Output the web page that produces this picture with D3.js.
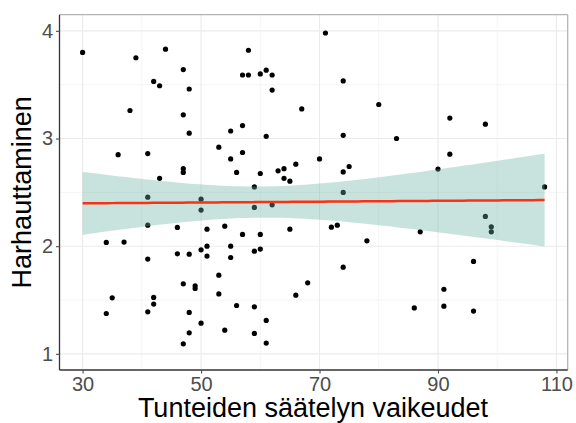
<!DOCTYPE html>
<html><head><meta charset="utf-8">
<script src="https://cdn.jsdelivr.net/npm/d3@7"></script>
<style>html,body{margin:0;padding:0;background:#fff}svg{display:block;font-family:"Liberation Sans",Arial,sans-serif}</style>
</head><body><svg id="c" width="576" height="423"></svg>
<script>
// Data
const xVals = [30,39,44,47,42,43,48,38,47,48,55,53,36,41,55,47,47,43,71,58,57,58,60,61,62,62,74,67,80,57,61,74,57,56,60,63,64,64,65,66,70,74,75,59,92,98,83,92,90,108,41,50,50,41,46,51,54,34,37,51,50,46,48,51,41,53,47,49,49,53,35,42,42,34,41,48,50,48,54,47,59,62,74,57,60,65,72,73,78,55,55,59,60,74,68,66,56,59,61,59,61,98,99,99,87,96,91,86,91,96];
const yVals = [3.80,3.75,3.83,3.64,3.53,3.49,3.46,3.26,3.22,3.05,3.07,2.92,2.85,2.86,2.81,2.72,2.685,2.63,3.98,3.82,3.59,3.59,3.60,3.635,3.59,3.45,3.535,3.275,3.316,3.12,3.02,3.03,2.87,2.685,2.675,2.70,2.72,2.63,2.604,2.762,2.81,2.69,2.74,2.55,3.19,3.133,3.00,2.855,2.716,2.55,2.455,2.437,2.335,2.195,2.174,2.158,2.186,2.035,2.038,2.0,1.966,1.929,1.926,1.908,1.88,1.731,1.65,1.632,1.607,1.557,1.52,1.524,1.462,1.375,1.39,1.385,1.285,1.195,1.22,1.093,2.36,2.384,2.499,2.109,2.109,2.158,2.177,2.195,2.05,2.0,1.895,1.954,1.973,1.805,1.66,1.545,1.449,1.437,1.31,1.19,1.10,2.276,2.18,2.133,2.133,1.858,1.60,1.427,1.443,1.397];
const xTicks = [30,50,70,90,110];
const xMinor = [40,60,80,100];
const yTicks = [1,2,3,4];
const yMinor = [1.5,2.5,3.5];
const xTitle = "Tunteiden säätelyn vaikeudet";
const yTitle = "Harhauttaminen";

const svg = d3.select("#c");
const L = 59.5, R = 567.7, T = 14.7, B = 370;
const x = d3.scaleLinear().domain([26.1, 111.9]).range([L, R]);
const y = d3.scaleLinear().domain([0.85, 4.15]).range([B, T]);

// grid
const g = svg.append("g");
g.selectAll(".vx").data(xMinor).join("line").attr("x1",d=>x(d)).attr("x2",d=>x(d)).attr("y1",T).attr("y2",B).attr("stroke","#f3f3f3").attr("stroke-width",0.8);
g.selectAll(".hy").data(yMinor).join("line").attr("y1",d=>y(d)).attr("y2",d=>y(d)).attr("x1",L).attr("x2",R).attr("stroke","#f3f3f3").attr("stroke-width",0.8);
g.selectAll(".vX").data(xTicks).join("line").attr("x1",d=>x(d)).attr("x2",d=>x(d)).attr("y1",T).attr("y2",B).attr("stroke","#ebebeb").attr("stroke-width",1.1);
g.selectAll(".hY").data(yTicks).join("line").attr("y1",d=>y(d)).attr("y2",d=>y(d)).attr("x1",L).attr("x2",R).attr("stroke","#ebebeb").attr("stroke-width",1.1);

// points
const pts = xVals.map((v,i)=>[v,yVals[i]]).filter(d=>d[1]!==undefined);
svg.append("g").selectAll("circle").data(pts).join("circle")
  .attr("cx",d=>x(d[0])).attr("cy",d=>y(d[1])).attr("r",2.6).attr("fill","#000");

// linear fit with 95% CI
const n = pts.length;
const px = pts.map(d=>d[0]), py = pts.map(d=>d[1]);
const mx = d3.mean(px), my = d3.mean(py);
let sxx=0, sxy=0;
for(let i=0;i<n;i++){sxx+=(px[i]-mx)**2; sxy+=(px[i]-mx)*(py[i]-my);}
const b1 = sxy/sxx, b0 = my - b1*mx;
let sse=0; for(let i=0;i<n;i++){sse+=(py[i]-b0-b1*px[i])**2;}
const s = Math.sqrt(sse/(n-2));
const tcrit = 1.982;
const [xmin,xmax] = d3.extent(px);
const grid = d3.range(80).map(i=>xmin+(xmax-xmin)*i/79);
const fit = grid.map(xx=>{const f=b0+b1*xx; const se=s*Math.sqrt(1/n+(xx-mx)**2/sxx); return {x:xx,f,lo:f-tcrit*se,hi:f+tcrit*se};});

svg.append("path").datum(fit)
  .attr("d", d3.area().x(d=>x(d.x)).y0(d=>y(d.lo)).y1(d=>y(d.hi)))
  .attr("fill","#69b3a2").attr("fill-opacity",0.37);
svg.append("path").datum(fit)
  .attr("d", d3.line().x(d=>x(d.x)).y(d=>y(d.f)))
  .attr("fill","none").attr("stroke","#fb3015").attr("stroke-width",2.5);

// panel border
svg.append("line").attr("x1",L).attr("x2",R).attr("y1",T).attr("y2",T).attr("stroke","#b3b3b3").attr("stroke-width",1.3);
svg.append("line").attr("x1",R).attr("x2",R).attr("y1",T).attr("y2",B).attr("stroke","#b3b3b3").attr("stroke-width",1.3);

// axes
const xAxis = svg.append("g").attr("transform",`translate(0,${B})`)
  .call(d3.axisBottom(x).tickValues(xTicks).tickSize(3.5).tickPadding(3).tickFormat(d3.format("d")));
const yAxis = svg.append("g").attr("transform",`translate(${L},0)`)
  .call(d3.axisLeft(y).tickValues(yTicks).tickSize(3.5).tickPadding(3).tickFormat(d3.format("d")));
[xAxis,yAxis].forEach(a=>{
  a.select(".domain").attr("stroke","#333").attr("stroke-width",1.3);
  a.selectAll(".tick line").attr("stroke","#4d4d4d").attr("stroke-width",1.1);
  a.selectAll(".tick text").attr("fill","#4d4d4d").style("font-size","20px").style("font-family","'Liberation Sans',Arial,sans-serif");
});
xAxis.selectAll(".domain").attr("d",`M${L},0H${R}`);
yAxis.selectAll(".domain").attr("d",`M0,${T}V${B}`);

// titles
svg.append("text").attr("x",313).attr("y",417).attr("text-anchor","middle")
  .style("font-size","27px").attr("fill","#000").text(xTitle);
svg.append("text").attr("transform",`translate(31,${(T+B)/2}) rotate(-90)`).attr("text-anchor","middle")
  .style("font-size","27px").attr("fill","#000").text(yTitle);
</script></body></html>
